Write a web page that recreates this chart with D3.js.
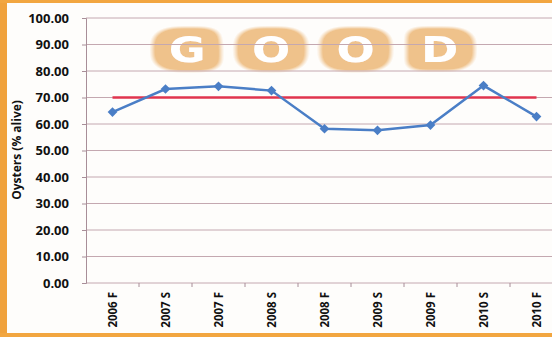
<!DOCTYPE html>
<html>
<head>
<meta charset="utf-8">
<script src="https://cdn.jsdelivr.net/npm/d3@7"></script>
<style>
  body { margin: 0; background: #fff; }
  svg { display: block; }
</style>
</head>
<body>
<svg class="chartSVG" width="552" height="337"></svg>
<script>
// data
const seasons = ["2006 F", "2007 S", "2007 F", "2008 S", "2008 F", "2009 S", "2009 F", "2010 S", "2010 F"]
const alive = [64.5, 73.2, 74.2, 72.6, 58.2, 57.6, 59.6, 74.5, 62.8]
const target = 70
const yTicks = [0, 10, 20, 30, 40, 50, 60, 70, 80, 90, 100]

const svg = d3.select(".chartSVG")
const config = { left: 86, top: 18, bottom: 283, bandW: 53 }

// orange halo for the word art: dilate, then blur + threshold to round it off
const defs = svg.append("defs")
const glow = defs.append("filter").attr("id", "halo")
  .attr("x", "-30%").attr("y", "-80%").attr("width", "160%").attr("height", "260%")
glow.append("feMorphology").attr("in", "SourceAlpha").attr("operator", "dilate").attr("radius", "11 6").attr("result", "fat")
glow.append("feGaussianBlur").attr("in", "fat").attr("stdDeviation", "6 4").attr("result", "blur")
const ct = glow.append("feComponentTransfer").attr("in", "blur").attr("result", "round")
ct.append("feFuncA").attr("type", "linear").attr("slope", 4).attr("intercept", -0.6)
glow.append("feFlood").attr("flood-color", "#efc28b").attr("result", "col")
glow.append("feComposite").attr("in", "col").attr("in2", "round").attr("operator", "in").attr("result", "orange")
const merge = glow.append("feMerge")
merge.append("feMergeNode").attr("in", "orange")
merge.append("feMergeNode").attr("in", "SourceGraphic")

// background + orange frame
svg.append("rect").attr("width", 552).attr("height", 337).attr("fill", "#fefdfb")
svg.append("rect").attr("x", 0).attr("y", 0).attr("width", 7).attr("height", 337).attr("fill", "#f0a23c")
svg.append("rect").attr("x", 0).attr("y", 0).attr("width", 552).attr("height", 3).attr("fill", "#f2a640")
svg.append("rect").attr("x", 0).attr("y", 333).attr("width", 552).attr("height", 4).attr("fill", "#f2a640")

const x = d3.scaleBand()
  .domain(seasons)
  .range([config.left, config.left + config.bandW * seasons.length])
  .padding(0)
const y = d3.scaleLinear().domain([0, 100]).range([config.bottom, config.top])
const cx = d => x(d) + x.bandwidth() / 2

// big "GOOD" word art behind the grid
svg.append("text")
  .attr("transform", "scale(1.25,1)")
  .attr("x", 135).attr("y", 62)
  .attr("letter-spacing", 37)
  .attr("font-family", "DejaVu Sans").attr("font-weight", "bold").attr("font-size", 36)
  .attr("fill", "#ffffff")
  .attr("filter", "url(#halo)")
  .text("GOOD")

// gridlines
svg.append("g").selectAll("line")
  .data(yTicks)
  .join("line")
  .attr("x1", config.left).attr("x2", 552)
  .attr("y1", d => y(d)).attr("y2", d => y(d))
  .attr("stroke", "#c4a8b0").attr("stroke-width", 1)

// y axis
const yAxis = svg.append("g")
  .attr("transform", `translate(${config.left},0)`)
  .call(d3.axisLeft(y).tickValues(yTicks).tickSize(4).tickPadding(13).tickFormat(d3.format(".2f")))
yAxis.select(".domain").attr("stroke", "#a88e98")
yAxis.selectAll(".tick line").attr("stroke", "#a88e98")
yAxis.selectAll("text")
  .attr("font-family", "Open Sans").attr("font-weight", "bold").attr("font-size", 13).attr("fill", "#111")

// x axis: ticks on band edges, labels rotated
const xAxis = svg.append("g").attr("transform", `translate(0,${config.bottom})`)
xAxis.selectAll("line")
  .data(seasons.slice(1))
  .join("line")
  .attr("x1", d => x(d)).attr("x2", d => x(d))
  .attr("y1", 0).attr("y2", 4)
  .attr("stroke", "#a88e98")
xAxis.selectAll("text")
  .data(seasons)
  .join("text")
  .attr("transform", d => `translate(${cx(d) + 4.5},9) rotate(-90)`)
  .attr("text-anchor", "end")
  .attr("font-family", "Open Sans").attr("font-weight", "bold").attr("font-size", 11.5).attr("fill", "#111")
  .text(d => d)

// y title
svg.append("text")
  .attr("transform", `translate(21,${150}) rotate(-90)`)
  .attr("text-anchor", "middle")
  .attr("font-family", "Open Sans").attr("font-weight", "bold").attr("font-size", 12).attr("fill", "#111")
  .text("Oysters (% alive)")

// target line
svg.append("line")
  .attr("x1", cx(seasons[0])).attr("x2", cx(seasons[seasons.length - 1]))
  .attr("y1", y(target)).attr("y2", y(target))
  .attr("stroke", "#e0344e").attr("stroke-width", 2.5)

// series
const pts = seasons.map((s, i) => [cx(s), y(alive[i])])
svg.append("path")
  .attr("d", d3.line()(pts))
  .attr("fill", "none").attr("stroke", "#4a7ec6").attr("stroke-width", 2.5)
svg.append("g").selectAll("path")
  .data(pts)
  .join("path")
  .attr("d", d3.symbol(d3.symbolDiamond2, 60))
  .attr("transform", d => `translate(${d[0]},${d[1]})`)
  .attr("fill", "#4a7ec6")
</script>
</body>
</html>
